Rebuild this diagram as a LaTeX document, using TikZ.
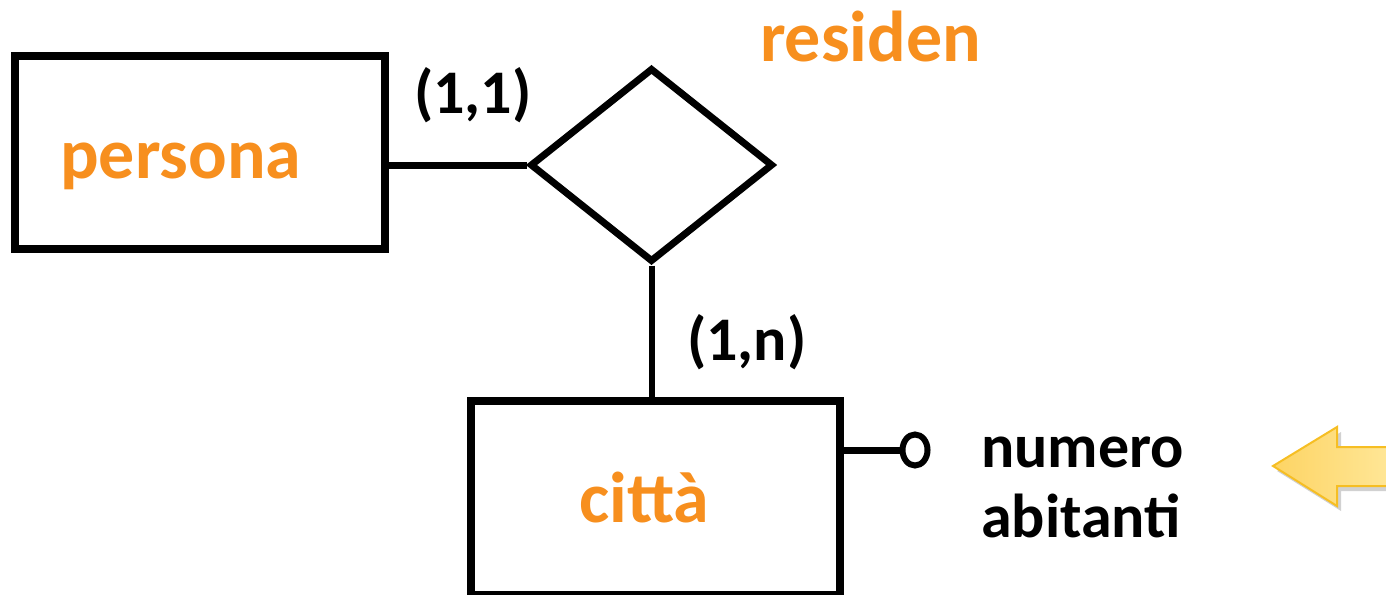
\documentclass[tikz,border=0pt]{standalone}
\usepackage{fontspec}
\setmainfont{Carlito}
\usetikzlibrary{shapes.geometric}
\definecolor{erorange}{RGB}{247,143,30}
\definecolor{arrowfillA}{RGB}{253,212,100}
\definecolor{arrowfillB}{RGB}{255,232,155}
\definecolor{arrowborder}{RGB}{246,190,35}
\tikzset{
  entity/.style={draw, line width=7.5pt, rectangle, inner sep=0pt},
  relation/.style={draw, line width=7pt, diamond, inner sep=0pt, minimum width=243pt, minimum height=194pt},
  conn/.style={line width=7pt},
  bigtext/.style={inner sep=0pt, anchor=base west, text=erorange, font=\bfseries\fontsize{72}{86}\selectfont},
  smalltext/.style={inner sep=0pt, anchor=base west, text=black, font=\bfseries\fontsize{62}{74}\selectfont},
  attrcircle/.style={draw, line width=6pt, ellipse, inner sep=0pt, minimum width=25pt, minimum height=31pt}
}
\begin{document}
\begin{tikzpicture}[x=1pt,y=-1pt]
\useasboundingbox (0,0) rectangle (1386,594);
% entities and relation
\node[entity, minimum width=370pt, minimum height=193pt] (persona) at (200,152.5) {};
\node[relation] (resid) at (651.5,165) {};
\node[entity, minimum width=369pt, minimum height=194pt] (citta) at (655.5,498) {};
% texts
\node[bigtext] (tpersona) at (60,178) {persona};
\node[bigtext] (tresiden) at (760,62) {residen};
\node[bigtext] (tcitta) at (579,522) {città};
\node[smalltext] (c11) at (414,113) {(1,1)};
\node[smalltext] (c1n) at (687,360) {(1,n)};
\node[smalltext] (tnum) at (981,467) {numero};
\node[smalltext] (tabit) at (981,537) {abitanti};
% connectors
\draw[conn] (persona.east |- resid.west) -- (resid.west);
\draw[conn, line width=6pt] (resid.south) -- (resid.south |- citta.north);
% attribute
\node[attrcircle] (attr) at (915,450) {};
\draw[conn] (citta.east |- attr) -- (attr.west);
% block arrow
\fill[black, opacity=0.18] (1277,471) -- (1341,432) -- (1341,452) -- (1400,452) -- (1400,491) -- (1341,491) -- (1341,511) -- cycle;
\shade[left color=arrowfillA, right color=arrowfillB, draw=arrowborder, line width=2pt, line join=miter]
  (1273,466) -- (1337,427) -- (1337,447) -- (1400,447) -- (1400,486) -- (1337,486) -- (1337,506) -- cycle;
\end{tikzpicture}
\end{document}
